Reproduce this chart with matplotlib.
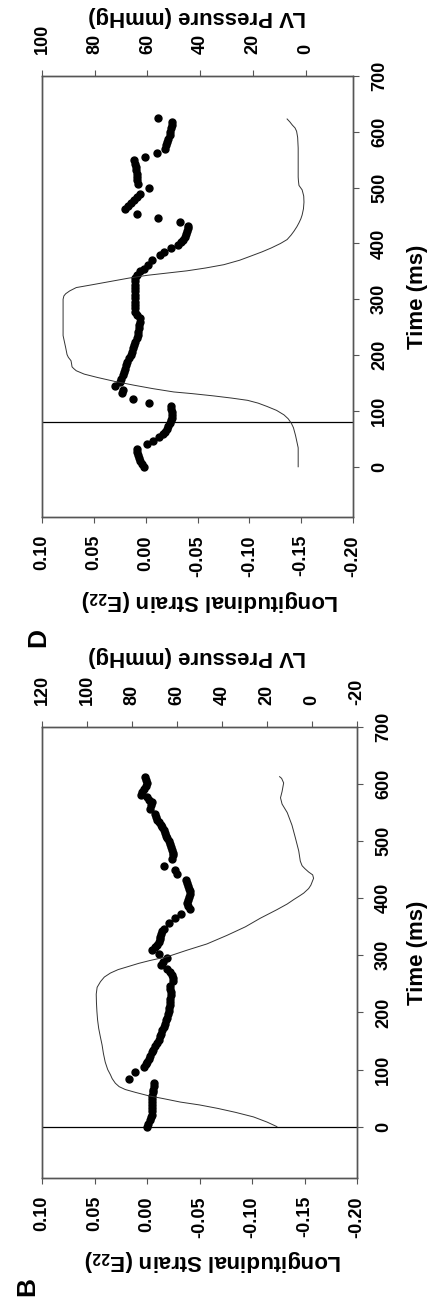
import matplotlib.pyplot as plt
from matplotlib.ticker import FormatStrFormatter

plt.rcParams['font.family'] = ['Liberation Sans', 'DejaVu Sans']
plt.rcParams['font.weight'] = 'bold'
plt.rcParams['axes.unicode_minus'] = False
plt.rcParams['mathtext.fontset'] = 'custom'
plt.rcParams['mathtext.rm'] = 'Liberation Sans:bold'
plt.rcParams['mathtext.default'] = 'rm'

# ---- panel B ----
b_time = [0, 5, 11, 16, 21, 27, 32, 38, 43, 49, 54, 60, 65, 71, 76, 84, 95, 104, 109,
          113, 119, 124, 130, 135, 141, 147, 152, 158, 163, 169, 175, 180, 186, 191,
          197, 202, 208, 213, 219, 224, 230, 235, 241, 246, 255, 261, 266, 271, 276,
          283, 289, 295, 302, 309, 314, 319, 324, 328, 333, 338, 342, 346, 356, 365,
          372, 381, 386, 391, 397, 402, 407, 412, 417, 422, 427, 432, 443, 450, 457,
          469, 475, 480, 485, 489, 495, 500, 505, 509, 514, 519, 524, 528, 533, 537,
          543, 548, 557, 563, 568, 573, 578, 581, 586, 591, 597, 602, 608, 613]
b_strain = [0.000, -0.001, -0.003, -0.004, -0.005, -0.005, -0.005, -0.005, -0.005,
            -0.005, -0.005, -0.006, -0.006, -0.007, -0.007, 0.017, 0.011, 0.003, 0.001,
            0.000, -0.002, -0.003, -0.005, -0.006, -0.008, -0.0095, -0.011, -0.012,
            -0.013, -0.014, -0.016, -0.0175, -0.018, -0.019, -0.020, -0.021, -0.021,
            -0.022, -0.022, -0.022, -0.023, -0.023, -0.022, -0.022, -0.025, -0.025,
            -0.024, -0.022, -0.019, -0.013, -0.015, -0.019, -0.011, -0.005, -0.008,
            -0.0095, -0.011, -0.012, -0.012, -0.013, -0.014, -0.016, -0.021, -0.027,
            -0.032, -0.041, -0.039, -0.038, -0.039, -0.040, -0.041, -0.041, -0.040,
            -0.039, -0.038, -0.037, -0.029, -0.027, -0.016, -0.024, -0.025, -0.025,
            -0.024, -0.023, -0.022, -0.021, -0.019, -0.018, -0.017, -0.016, -0.014,
            -0.013, -0.011, -0.0095, -0.009, -0.008, -0.003, -0.004, -0.005, -0.002,
            0.000, 0.006, 0.005, 0.003, 0.001, 0.000, 0.001, 0.0016]
b_p_time = [0, 8, 17, 25, 32, 38, 43, 49, 54, 60, 65, 70, 76, 84, 91, 100, 113, 128,
            143, 158, 172, 187, 202, 217, 232, 244, 254, 262, 269, 275, 280, 286, 291,
            298, 309, 320, 335, 350, 365, 380, 390, 398, 404, 409, 417, 423, 428, 435,
            441, 446, 452, 457, 465, 483, 506, 528, 550, 565, 576, 587, 602, 610, 613]
b_pressure = [15.6, 20, 26, 34, 42, 50, 58.5, 66, 72.6, 78.5, 83, 85.7, 87.4, 88.8,
              89.6, 90.8, 91.9, 92.7, 93.3, 94.1, 94.8, 95.3, 95.6, 95.8, 95.9, 95.5,
              94, 92.3, 89.6, 86.2, 82, 77, 72, 64, 55.6, 46.7, 37.8, 29.6, 23, 15.6,
              11, 8, 5.6, 3.7, 1.5, 0.5, 0, -0.7, -0.3, 1.5, 3.2, 4.4, 5.2, 5.9, 7.4,
              8.9, 11, 13.3, 14, 13.3, 12.6, 13.5, 14.4]
b_marker = 0

# ---- panel D ----
d_time = [0, 5, 10, 15, 21, 27, 32, 40, 47, 53, 58, 63, 68, 73, 78, 83, 88, 93, 98,
          103, 108, 115, 122, 132, 138, 145, 152, 158, 164, 170, 176, 182, 188, 194,
          200, 206, 212, 218, 224, 230, 236, 242, 248, 254, 260, 266, 272, 278, 284,
          290, 296, 302, 308, 314, 320, 326, 332, 338, 344, 350, 355, 362, 370, 379,
          385, 391, 397, 402, 407, 412, 417, 422, 427, 432, 438, 446, 453, 462, 467,
          472, 477, 483, 489, 500, 507, 513, 519, 525, 531, 537, 543, 549, 555, 562,
          570, 576, 582, 588, 594, 600, 606, 612, 617, 625]
d_strain = [0.002, 0.004, 0.005, 0.006, 0.007, 0.008, 0.008, -0.001, -0.007, -0.013,
            -0.017, -0.019, -0.021, -0.022, -0.023, -0.024, -0.025, -0.025, -0.025,
            -0.024, -0.024, -0.003, 0.012, 0.023, 0.022, 0.030, 0.025, 0.024, 0.022,
            0.021, 0.020, 0.019, 0.018, 0.016, 0.014, 0.013, 0.012, 0.011, 0.010,
            0.008, 0.007, 0.007, 0.006, 0.006, 0.005, 0.005, 0.008, 0.010, 0.010,
            0.010, 0.010, 0.010, 0.010, 0.010, 0.010, 0.010, 0.010, 0.010, 0.008,
            0.005, 0.002, -0.002, -0.006, -0.014, -0.018, -0.024, -0.031, -0.034,
            -0.036, -0.038, -0.039, -0.040, -0.041, -0.041, -0.033, -0.012, 0.008,
            0.020, 0.017, 0.014, 0.011, 0.008, 0.005, -0.003, 0.007, 0.008, 0.008,
            0.008, 0.009, 0.009, 0.010, 0.011, 0.001, -0.011, -0.019, -0.020, -0.021,
            -0.022, -0.023, -0.023, -0.024, -0.025, -0.025, -0.012]
d_p_time = [0, 34, 56, 70, 78, 86, 93, 101, 108, 114, 119, 123, 127, 131, 134, 140,
            146, 153, 160, 166, 172, 176, 179, 185, 190, 196, 201, 213, 235, 265, 290,
            300, 306, 310, 315, 321, 326, 332, 338, 343, 351, 356, 362, 370, 377, 385,
            392, 400, 407, 415, 422, 430, 437, 444, 451, 462, 474, 485, 496, 500, 504,
            512, 519, 571, 590, 601, 607, 612, 618, 623]
d_pressure = [2.8, 2.8, 3.8, 4.6, 5.4, 6.6, 8.2, 11, 14.6, 18, 22, 28, 35, 43, 50,
              58, 65, 72.5, 79, 84, 87, 88, 88.6, 88.8, 89, 90, 90.5, 91, 92, 92, 92,
              92, 91.7, 91, 89.5, 87, 81, 74, 67, 60, 45, 38, 31, 25, 21, 16.5, 13,
              9.5, 7, 5.5, 4.4, 3.3, 2.5, 1.8, 1.3, 0.8, 0.6, 0.7, 1.3, 1.9, 2.5, 2.7,
              2.8, 2.8, 3.0, 3.4, 4.0, 5, 6, 7]
d_marker = 80

strain_ticks = [0.10, 0.05, 0.00, -0.05, -0.10, -0.15, -0.20]
time_ticks = [0, 100, 200, 300, 400, 500, 600, 700]
b_p_ticks = [120, 100, 80, 60, 40, 20, 0, -20]
d_p_ticks = [100, 80, 60, 40, 20, 0]

W, H = 441, 1303
fig = plt.figure(figsize=(W / 100, H / 100), dpi=100)
spine_col = '#555555'


def panel(rect, t, e, pt, p, plim, pticks, mark):
    ax = fig.add_axes(rect)
    ax.plot(e, t, 'o', color='black', ms=5, zorder=3)
    ax.axhline(mark, color='black', lw=0.9)
    ax.set_xlim(0.10, -0.20)
    ax.set_ylim(-90, 700)
    ax.set_xticks(strain_ticks)
    ax.xaxis.set_major_formatter(FormatStrFormatter('%.2f'))
    ax.set_yticks(time_ticks)
    ax.yaxis.tick_right()
    ax.tick_params(direction='out', length=4, width=0.8, color=spine_col,
                   labelsize=13, labelrotation=90, pad=9)
    for lab in ax.get_yticklabels():
        lab.set_va('center')
    ax2 = ax.twiny()
    ax2.plot(p, pt, color='#333333', lw=0.7)
    ax2.set_xlim(plim)
    ax2.set_xticks(pticks)
    ax2.tick_params(direction='out', length=4, width=0.8, color=spine_col,
                    labelsize=13, labelrotation=90, pad=12)
    for a in (ax, ax2):
        for s in a.spines.values():
            s.set_color(spine_col)
            s.set_linewidth(1.0)
    return ax


def px(x, y):
    return x / W, 1 - y / H


panel([42 / W, 1 - 517 / H, 311 / W, 441 / H], d_time, d_strain, d_p_time, d_pressure,
      (100, -18), d_p_ticks, d_marker)
panel([42 / W, 1 - 1178 / H, 315 / W, 451 / H], b_time, b_strain, b_p_time, b_pressure,
      (120, -20), b_p_ticks, b_marker)

lab_kw = dict(fontsize=16, fontweight='bold', ha='center', va='center')
strain_label = 'Longitudinal Strain (E$_{22}$)'

fig.text(*px(197, 16), 'LV Pressure (mmHg)', rotation=180, **lab_kw)
fig.text(*px(210, 601), strain_label, rotation=180, **lab_kw)
fig.text(*px(418, 297), 'Time (ms)', rotation=90, **lab_kw)
fig.text(*px(38, 637), 'D', rotation=90, fontsize=19, fontweight='bold', ha='center', va='center')

fig.text(*px(197, 657), 'LV Pressure (mmHg)', rotation=180, **lab_kw)
fig.text(*px(213, 1261), strain_label, rotation=180, **lab_kw)
fig.text(*px(418, 953), 'Time (ms)', rotation=90, **lab_kw)
fig.text(*px(27, 1286), 'B', rotation=90, fontsize=19, fontweight='bold', ha='center', va='center')

fig.savefig('out.png', dpi=100)
